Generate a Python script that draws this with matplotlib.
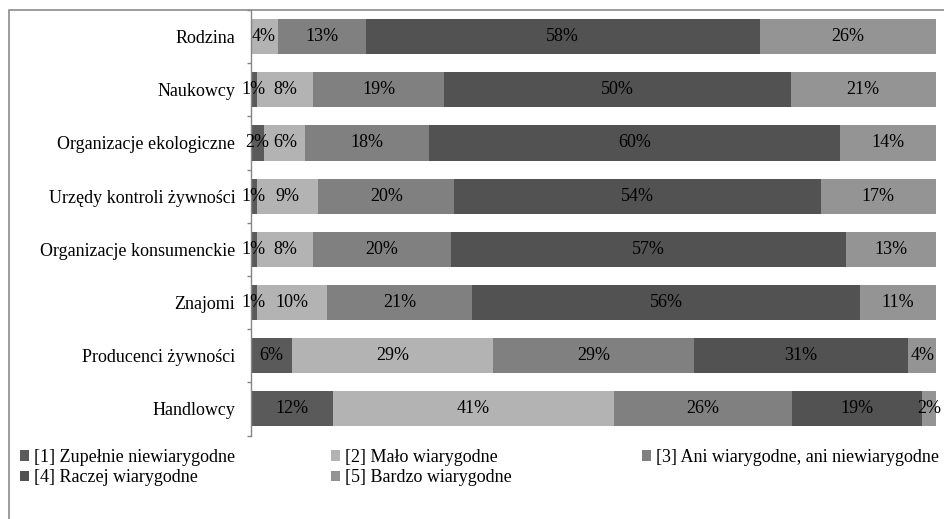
import matplotlib
matplotlib.use("Agg")
import matplotlib.pyplot as plt
import numpy as np
from matplotlib.patches import Rectangle

plt.rcParams['font.family'] = ['Liberation Serif', 'DejaVu Serif']

categories = ["Rodzina", "Naukowcy", "Organizacje ekologiczne",
              "Urzędy kontroli żywności", "Organizacje konsumenckie",
              "Znajomi", "Producenci żywności", "Handlowcy"]
series_names = ["[1] Zupełnie niewiarygodne", "[2] Mało wiarygodne",
                "[3] Ani wiarygodne, ani niewiarygodne",
                "[4] Raczej wiarygodne", "[5] Bardzo wiarygodne"]
s1 = [0, 1, 2, 1, 1, 1, 6, 12]
s2 = [4, 8, 6, 9, 8, 10, 29, 41]
s3 = [13, 19, 18, 20, 20, 21, 29, 26]
s4 = [58, 50, 60, 54, 57, 56, 31, 19]
s5 = [26, 21, 14, 17, 13, 11, 4, 2]
colors = ["#5a5a5a", "#b3b3b3", "#808080", "#525252", "#949494"]

W, H = 944, 519
fig = plt.figure(figsize=(W / 100, H / 100), dpi=100)
ax = fig.add_axes([250.5 / W, 1 - 435.5 / H, (936 - 250.5) / W, (435.5 - 10) / H])

data = np.array([s1, s2, s3, s4, s5], dtype=float)
totals = data.sum(axis=0)
shares = data / totals * 100
y = np.arange(len(categories))
left = np.zeros(len(categories))
handles = []
for i in range(5):
    h = ax.barh(y, shares[i], left=left, height=0.66, color=colors[i],
                edgecolor='none', label=series_names[i])
    handles.append(h)
    for j in range(len(categories)):
        if data[i, j] > 0:
            ax.text(left[j] + shares[i, j] / 2, y[j], f"{int(data[i, j])}%",
                    ha='center', va='center', fontsize=13, color='black')
    left += shares[i]

ax.set_xlim(0, 100)
ax.set_ylim(len(categories) - 0.5, -0.5)
ax.set_yticks(y)
ax.set_yticklabels(categories, fontsize=13)
ax.set_yticks(np.arange(len(categories) + 1) - 0.5, minor=True)
ax.tick_params(axis='y', which='major', length=0, pad=11)
ax.tick_params(axis='y', which='minor', length=3, width=1, color='#868686')
ax.xaxis.set_visible(False)
for s in ['top', 'right', 'bottom']:
    ax.spines[s].set_visible(False)
ax.spines['left'].set_color('#868686')
ax.spines['left'].set_linewidth(1)

# outer chart frame
fig.add_artist(Rectangle((8.5 / W, -0.2), 1.5, 1.2 - 10 / H, transform=fig.transFigure,
                         fill=False, edgecolor='#8c8c8c', linewidth=1.2, clip_on=False))

cols = [[0, 3], [1, 4], [2]]
xs = [20, 331, 642]
for c, x0 in zip(cols, xs):
    fig.legend([handles[k] for k in c], [series_names[k] for k in c],
               loc='upper left', bbox_to_anchor=(x0 / W, 1 - 449 / H),
               frameon=False, fontsize=13, borderpad=0, borderaxespad=0,
               handlelength=0.5, handleheight=0.5, handletextpad=0.25,
               labelspacing=0.17)

fig.savefig("out.png", dpi=100)
